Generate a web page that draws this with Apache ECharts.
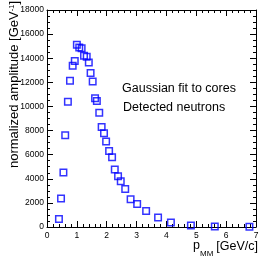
<!DOCTYPE html>
<html>
<head>
<meta charset="utf-8">
<script src="https://cdn.jsdelivr.net/npm/echarts@6/dist/echarts.min.js"></script>
<style>
html, body { margin: 0; padding: 0; background: #fff; }
#chart { width: 259px; height: 258px; }
</style>
</head>
<body>
<div id="chart"></div>
<script>
// momentum p_MM [GeV/c]
const pMM = [0.40, 0.47, 0.55, 0.61, 0.70, 0.77, 0.86, 0.93, 1.00, 1.08, 1.16, 1.24, 1.33, 1.40, 1.46, 1.53,
  1.61, 1.67, 1.75, 1.83, 1.91, 1.98, 2.08, 2.18, 2.27, 2.38, 2.47, 2.62, 2.80, 3.02, 3.32, 3.72,
  4.15, 4.82, 5.62, 6.78];
// normalized amplitude [GeV^-1]
const amplitude = [660, 2360, 4520, 7620, 10380, 12130, 13370, 13760, 15120, 14880, 14820, 14200, 14130, 13650, 12780, 12060,
  10680, 10460, 9470, 8300, 7780, 7100, 6310, 5780, 4760, 4220, 3790, 3150, 2300, 1900, 1330, 780,
  365, 120, 40, 20];

const xMin = 0, xMax = 7, xStep = 1;
const yMin = 0, yMax = 18000, yStep = 2000;
const legendLines = ['Gaussian fit to cores', 'Detected neutrons'];

const font = 'Liberation Sans, Arial, Helvetica, sans-serif';
const chart = echarts.init(document.getElementById('chart'));

const line = { show: true, onZero: false, lineStyle: { color: '#000', width: 1 } };
const tick = { show: true, inside: true, length: 6, lineStyle: { color: '#000', width: 1 } };
const minor = (n) => ({ show: true, splitNumber: n, length: 3, lineStyle: { color: '#000', width: 1 } });
const plain = (v) => String(v); // no thousands separator

const xBase = { type: 'value', min: xMin, max: xMax, interval: xStep, axisLine: line, axisTick: tick,
  minorTick: minor(5), splitLine: { show: false } };
const yBase = { type: 'value', min: yMin, max: yMax, interval: yStep, axisLine: line, axisTick: tick,
  minorTick: minor(4), splitLine: { show: false } };

chart.setOption({
  animation: false,
  backgroundColor: '#fff',
  grid: { left: 47, right: 3, top: 10, bottom: 31, outerBoundsMode: 'none', containLabel: false },
  xAxis: [
    Object.assign({}, xBase, { position: 'bottom',
      axisLabel: { color: '#000', fontSize: 8.5, fontFamily: font, margin: 4, formatter: plain } }),
    Object.assign({}, xBase, { position: 'top', axisLabel: { show: false } })
  ],
  yAxis: [
    Object.assign({}, yBase, { position: 'left',
      axisLabel: { color: '#000', fontSize: 8.5, fontFamily: font, margin: 3, formatter: plain } }),
    Object.assign({}, yBase, { position: 'right', axisLabel: { show: false } })
  ],
  series: [{
    type: 'scatter',
    xAxisIndex: 0,
    yAxisIndex: 0,
    data: pMM.map((p, i) => [p, amplitude[i]]),
    symbol: 'rect',
    symbolSize: 6.5,
    itemStyle: { color: 'rgba(0,0,0,0)', borderColor: '#0000ff', borderWidth: 1.5 },
    emphasis: { disabled: true },
    clip: false
  }],
  graphic: [
    { type: 'text', x: 14.5, y: 1, rotation: Math.PI / 2,
      style: { text: '{a|normalized amplitude [GeV}{s|-1}{a|]}', align: 'right', verticalAlign: 'middle',
        fill: '#000', font: '13px ' + font,
        rich: { a: { fontSize: 13, fontFamily: font, fill: '#000' }, s: { fontSize: 7.5, fontFamily: font, verticalAlign: 'top' } } } },
    { type: 'text', x: 193, y: 246,
      style: { text: 'p', fill: '#000', font: '12.5px ' + font, verticalAlign: 'middle' } },
    { type: 'text', x: 200, y: 254,
      style: { text: 'MM', fill: '#000', font: '8px ' + font, verticalAlign: 'middle' } },
    { type: 'text', x: 258, y: 247,
      style: { text: '[GeV/c]', fill: '#000', font: '12.5px ' + font, align: 'right', verticalAlign: 'middle' } },
    { type: 'text', x: 122, y: 89,
      style: { text: legendLines[0], fill: '#000', font: '12.5px ' + font, verticalAlign: 'middle' } },
    { type: 'text', x: 123, y: 108,
      style: { text: legendLines[1], fill: '#000', font: '12.5px ' + font, verticalAlign: 'middle' } }
  ]
});
</script>
</body>
</html>
